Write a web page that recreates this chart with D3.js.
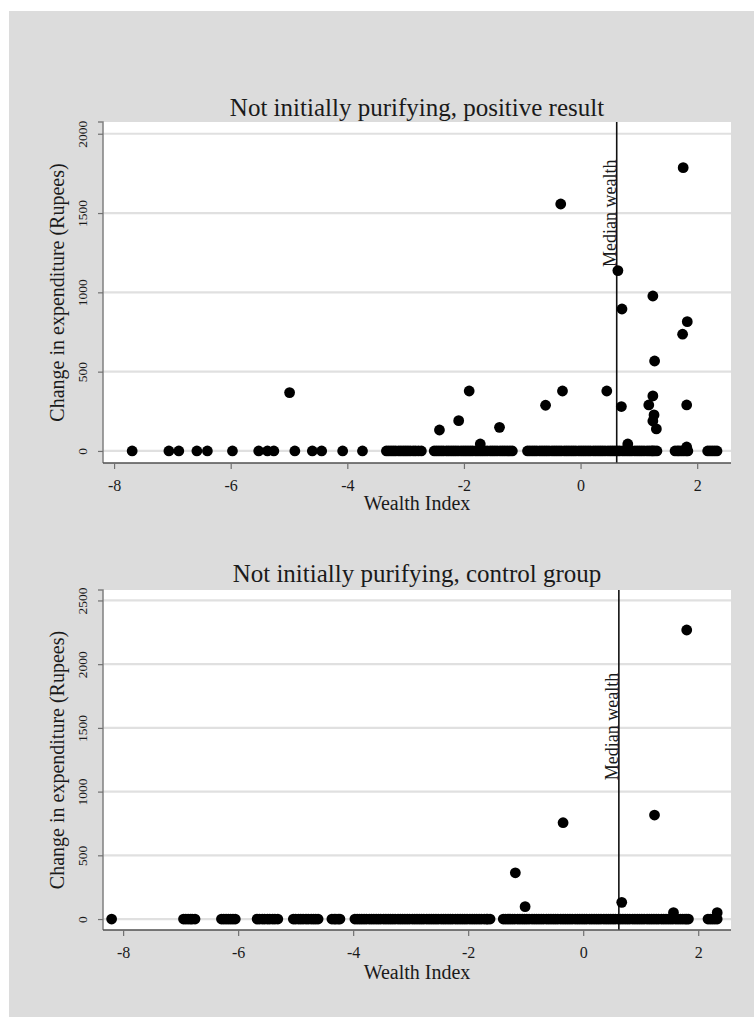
<!DOCTYPE html>
<html>
<head>
<meta charset="utf-8">
<script src="https://cdn.jsdelivr.net/npm/d3@7"></script>
<style>
  html, body { margin: 0; padding: 0; background: #ffffff; }
  svg { display: block; }
  text { font-family: "Liberation Serif", "Times New Roman", serif; fill: #1a1a1a; }
</style>
</head>
<body>
<svg id="chart" width="754" height="1017"></svg>
<script>
// ---------------- DATA ----------------
const panelTitles = ["Not initially purifying, positive result", "Not initially purifying, control group"];
const xTickValues = [-8, -6, -4, -2, 0, 2];
const yTickValuesTop = [0, 500, 1000, 1500, 2000];
const yTickValuesBottom = [0, 500, 1000, 1500, 2000, 2500];
const xAxisTitle = "Wealth Index";
const yAxisTitle = "Change in expenditure (Rupees)";
const medianLabel = "Median wealth";
const medianWealth = 0.62;

// Top panel: households with zero change (wealth index values)
const topZeroWealth = [
  -7.69, -7.06, -6.89, -6.58, -6.40, -5.97, -5.52, -5.37, -5.26, -4.90, -4.60, -4.44, -4.08, -3.74,
  -3.33, -3.29, -3.25, -3.21, -3.17, -3.12, -3.08, -3.04, -3.00, -2.96, -2.92, -2.87, -2.83, -2.78, -2.73,
  -2.51, -2.47, -2.43, -2.39, -2.35, -2.30, -2.26, -2.22, -2.18, -2.14, -2.10, -2.05, -2.01, -1.97, -1.93,
  -1.89, -1.85, -1.80, -1.76, -1.72, -1.68, -1.64, -1.60, -1.55, -1.51, -1.47, -1.43, -1.38, -1.34, -1.30,
  -1.26, -1.21, -1.17,
  -0.91, -0.87, -0.83, -0.79, -0.75, -0.70, -0.66, -0.62, -0.58, -0.54, -0.49, -0.45, -0.41, -0.37, -0.33,
  -0.28, -0.24, -0.20, -0.16, -0.12, -0.08, -0.03, 0.01, 0.05, 0.09, 0.13, 0.17, 0.22, 0.26, 0.30, 0.34,
  0.38, 0.42, 0.47, 0.51, 0.55, 0.59, 0.63, 0.67, 0.72, 0.76, 0.80, 0.84, 0.88, 0.93, 0.97, 1.01, 1.05,
  1.09, 1.14, 1.18, 1.22, 1.24, 1.27, 1.31,
  1.62, 1.66, 1.69, 1.73, 1.77, 1.81, 1.84,
  2.18, 2.22, 2.26, 2.30, 2.34
];
// Top panel: households with a positive change
const topPosWealth = [-4.99, -2.42, -2.09, -1.91, -1.72, -1.39, -0.60, -0.34, -0.31, 0.45, 0.64, 0.70, 0.71, 0.81, 1.17, 1.24, 1.24, 1.26, 1.24, 1.30, 1.27, 1.75, 1.76, 1.82, 1.83, 1.82];
const topPosChange = [368, 132, 191, 378, 44, 149, 288, 1557, 378, 378, 1137, 280, 895, 44, 290, 977, 347, 227, 189, 139, 567, 736, 1786, 290, 815, 25];

// Bottom panel: households with zero change
const bottomZeroWealth = [
  -8.20,
  -6.95, -6.91, -6.87, -6.83, -6.80, -6.75,
  -6.29, -6.25, -6.21, -6.17, -6.13, -6.09, -6.05,
  -5.67, -5.63, -5.58, -5.54, -5.49, -5.45, -5.40, -5.36, -5.31,
  -5.04, -5.00, -4.95, -4.91, -4.87, -4.82, -4.78, -4.73, -4.69, -4.65, -4.61,
  -4.37, -4.33, -4.30, -4.26, -4.23,
  -3.97, -3.93, -3.89, -3.85, -3.81, -3.77, -3.72, -3.68, -3.64, -3.60, -3.56, -3.52, -3.47, -3.43, -3.39,
  -3.35, -3.31, -3.27, -3.22, -3.18, -3.14, -3.10, -3.06, -3.02, -2.97, -2.93, -2.89, -2.85, -2.81, -2.77,
  -2.72, -2.68, -2.64, -2.60, -2.56, -2.52, -2.47, -2.43, -2.39, -2.35, -2.31, -2.27, -2.22, -2.18, -2.14,
  -2.10, -2.06, -2.02, -1.97, -1.93, -1.89, -1.85, -1.81, -1.77, -1.72, -1.68, -1.66, -1.62,
  -1.39, -1.35, -1.31, -1.27, -1.23, -1.19, -1.14, -1.10, -1.06, -1.02, -0.98, -0.94, -0.89, -0.85, -0.81,
  -0.77, -0.73, -0.69, -0.64, -0.60, -0.56, -0.52, -0.48, -0.44, -0.39, -0.35, -0.31, -0.27, -0.23, -0.19,
  -0.14, -0.10, -0.06, -0.02, 0.02, 0.06, 0.11, 0.15, 0.19, 0.23, 0.27, 0.31, 0.36, 0.40, 0.44, 0.48, 0.52,
  0.56, 0.61, 0.65, 0.69, 0.73, 0.77, 0.81, 0.86, 0.90, 0.94, 0.98, 1.02, 1.06, 1.11, 1.15, 1.19, 1.23,
  1.27, 1.31, 1.36, 1.40, 1.44, 1.48, 1.52, 1.56, 1.61, 1.65, 1.69, 1.73, 1.77, 1.80, 1.83,
  2.17, 2.21, 2.25, 2.29, 2.33
];
// Bottom panel: households with a positive change
const bottomPosWealth = [-1.18, -1.01, -0.35, 0.67, 1.24, 1.57, 1.80, 2.33];
const bottomPosChange = [363, 97, 756, 131, 816, 50, 2268, 50];

// ---------------- DRAW ----------------
const svg = d3.select("#chart");

// graph region background
svg.append("rect").attr("x", 9).attr("y", 11).attr("width", 745).attr("height", 1006).attr("fill", "#dcdcdc");

const panels = [
  {
    title: panelTitles[0], zeros: topZeroWealth, posX: topPosWealth, posY: topPosChange,
    yTicks: yTickValuesTop, xDomain: [-8.19, 2.58], yDomain: [-76, 2074],
    left: 103, right: 731, top: 122, bottom: 463,
    titleY: 107, tickLabelY: 485, xTitleY: 503, medianTextAt: 1160
  },
  {
    title: panelTitles[1], zeros: bottomZeroWealth, posX: bottomPosWealth, posY: bottomPosChange,
    yTicks: yTickValuesBottom, xDomain: [-8.35, 2.57], yDomain: [-86, 2582],
    left: 103, right: 731, top: 590, bottom: 930,
    titleY: 573, tickLabelY: 952, xTitleY: 972, medianTextAt: 1090
  }
];

panels.forEach(p => {
  const x = d3.scaleLinear().domain(p.xDomain).range([p.left, p.right]);
  const y = d3.scaleLinear().domain(p.yDomain).range([p.bottom, p.top]);
  const g = svg.append("g");

  // plot region
  g.append("rect").attr("x", p.left).attr("y", p.top)
    .attr("width", p.right - p.left).attr("height", p.bottom - p.top).attr("fill", "#ffffff");

  // gridlines
  g.append("g").selectAll("line").data(p.yTicks).join("line")
    .attr("x1", p.left).attr("x2", p.right)
    .attr("y1", d => y(d)).attr("y2", d => y(d))
    .attr("stroke", "#e0e0e0").attr("stroke-width", 2.2);

  // median line
  g.append("line")
    .attr("x1", x(medianWealth)).attr("x2", x(medianWealth))
    .attr("y1", p.top).attr("y2", p.bottom)
    .attr("stroke", "#111").attr("stroke-width", 1.6);
  g.append("text")
    .attr("transform", `translate(${x(medianWealth) - 1},${y(p.medianTextAt)}) rotate(-90)`)
    .attr("text-anchor", "start")
    .attr("font-size", 18)
    .text(medianLabel);

  // points: zeros and positives
  const pts = p.zeros.map(w => ({ w: w, c: 0 }))
    .concat(p.posX.map((w, i) => ({ w: w, c: p.posY[i] })));
  g.append("g").selectAll("circle").data(pts).join("circle")
    .attr("cx", d => x(d.w)).attr("cy", d => y(d.c)).attr("r", 5.4)
    .attr("fill", "#000");

  // y axis
  const yAxis = d3.axisLeft(y).tickValues(p.yTicks).tickSize(5).tickFormat(d3.format("d"));
  const ya = g.append("g").attr("transform", `translate(${p.left},0)`).call(yAxis);
  ya.select(".domain").attr("stroke", "#808080").attr("stroke-width", 1.5)
    .attr("d", `M-5,${p.top}H0V${p.bottom}`);
  ya.selectAll(".tick line").attr("stroke", "#707070").attr("stroke-width", 1.2);
  ya.selectAll(".tick text")
    .attr("x", null).attr("dy", null)
    .attr("transform", "translate(-21,0) rotate(-90)")
    .attr("text-anchor", "middle")
    .attr("dominant-baseline", "central")
    .attr("font-size", 13.5)
    .attr("font-family", "Liberation Serif, serif")
    .attr("fill", "#1a1a1a");

  // x axis
  const xAxis = d3.axisBottom(x).tickValues(xTickValues).tickSize(6).tickFormat(d3.format("d"));
  const xa = g.append("g").attr("transform", `translate(0,${p.bottom})`).call(xAxis);
  xa.select(".domain").attr("stroke", "#505050").attr("stroke-width", 1.5)
    .attr("d", `M${p.left},0H${p.right}`);
  xa.selectAll(".tick line").attr("stroke", "#707070").attr("stroke-width", 1.2);
  xa.selectAll(".tick text")
    .attr("y", p.tickLabelY - p.bottom).attr("dy", null)
    .attr("dominant-baseline", "central")
    .attr("font-size", 16)
    .attr("font-family", "Liberation Serif, serif")
    .attr("fill", "#1a1a1a")
    .text(d => (d < 0 ? "-" + Math.abs(d) : d));

  // titles
  const cx = (p.left + p.right) / 2;
  g.append("text").attr("x", cx).attr("y", p.titleY)
    .attr("text-anchor", "middle").attr("dominant-baseline", "central")
    .attr("font-size", 25).text(p.title);
  g.append("text").attr("x", cx).attr("y", p.xTitleY)
    .attr("text-anchor", "middle").attr("dominant-baseline", "central")
    .attr("font-size", 20).text(xAxisTitle);
  g.append("text")
    .attr("transform", `translate(57,${(p.top + p.bottom) / 2}) rotate(-90)`)
    .attr("text-anchor", "middle").attr("dominant-baseline", "central")
    .attr("font-size", 20).text(yAxisTitle);
});
</script>
</body>
</html>
